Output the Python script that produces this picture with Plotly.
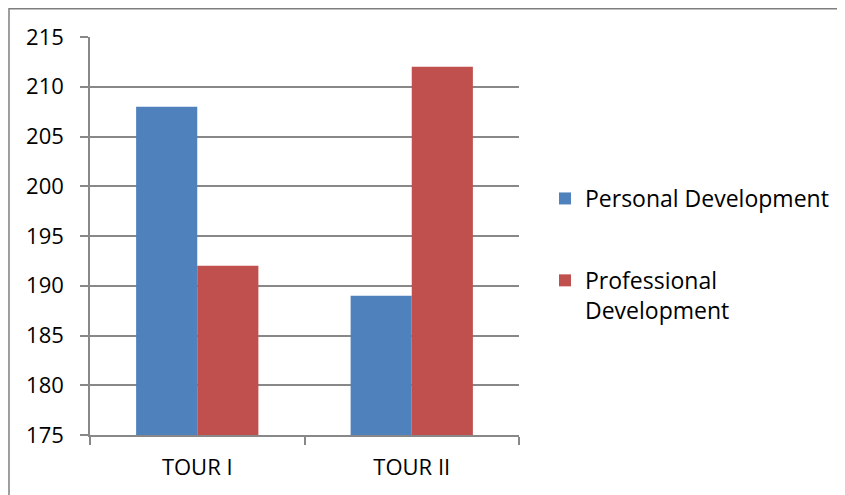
import plotly.graph_objects as go

categories = ["TOUR I", "TOUR II"]
personal = [208, 189]
professional = [192, 212]
series_names = ["Personal Development", "Professional<br>Development"]
y_ticks = [175, 180, 185, 190, 195, 200, 205, 210, 215]

FONT = "Open Sans"
GRID = "#888888"
OFF = 8  # page body margin

fig = go.Figure()
fig.add_trace(go.Bar(x=categories, y=personal, name=series_names[0],
                     legendgroup="a",
                     marker=dict(color="#4F81BD", line=dict(width=0))))
fig.add_trace(go.Bar(x=categories, y=professional, name=series_names[1],
                     legendgroup="b",
                     marker=dict(color="#C0504D", line=dict(width=0))))

W, H = 845 - OFF, 495 - OFF
L, R, T, B = 90 - OFF, 520 - OFF, 37 - OFF, 435 - OFF

def px_x(p):
    return (p - OFF - L) / (R - L)

def px_y(p):
    return (B - (p - OFF)) / (B - T)

fig.update_layout(
    width=W, height=H,
    margin=dict(l=L, r=W - R, t=T, b=H - B, pad=0),
    paper_bgcolor="white", plot_bgcolor="white",
    barmode="group", bargap=0.43, bargroupgap=0,
    font=dict(family=FONT, size=22, color="#000000"),
    legend=dict(x=px_x(545), y=px_y(177), xanchor="left", yanchor="top",
                font=dict(size=23), tracegroupgap=49, valign="top",
                itemwidth=30, bgcolor="rgba(0,0,0,0)"),
    shapes=[dict(type="rect", xref="paper", yref="paper",
                 x0=px_x(8.8), x1=px_x(900), y0=px_y(560), y1=px_y(8.8),
                 line=dict(color="#7f7f7f", width=1.5), layer="below")],
)
fig.update_xaxes(type="category", showgrid=False, showline=True,
                 linecolor=GRID, linewidth=1.5, ticks="outside",
                 tickson="boundaries", ticklen=8, tickcolor=GRID, tickwidth=1.5,
                 tickfont=dict(size=22), ticklabelstandoff=12)
fig.update_yaxes(range=[175, 215], tickvals=y_ticks, showgrid=True,
                 gridcolor=GRID, gridwidth=1.5, showline=True, linecolor=GRID,
                 linewidth=1.5, ticks="outside", ticklen=8, tickcolor=GRID,
                 tickwidth=1.5, zeroline=False, tickfont=dict(size=22),
                 ticklabelstandoff=12)

fig.write_html("out.html")
